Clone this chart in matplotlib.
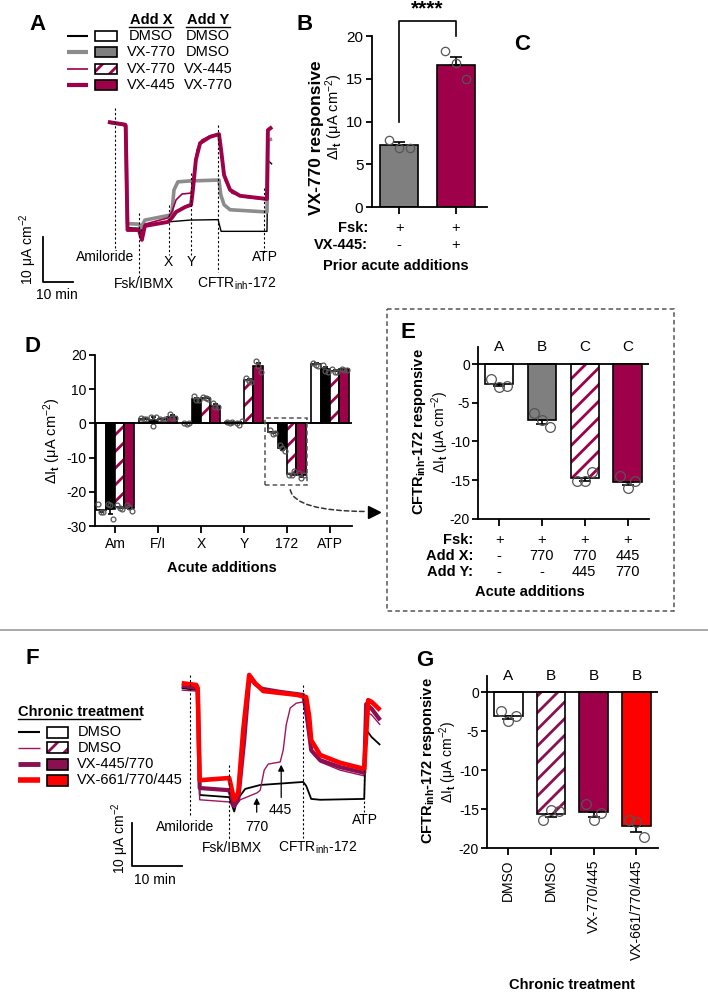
import numpy as np
import matplotlib
matplotlib.use("Agg")
import matplotlib.pyplot as plt
from matplotlib.patches import Rectangle, FancyArrowPatch

plt.rcParams['font.family'] = ['Liberation Sans', 'DejaVu Sans']
plt.rcParams['font.size'] = 10
plt.rcParams['axes.unicode_minus'] = False
plt.rcParams['mathtext.fontset'] = 'custom'
plt.rcParams['mathtext.rm'] = 'Liberation Sans'
plt.rcParams['mathtext.it'] = 'Liberation Sans:italic'
plt.rcParams['mathtext.bf'] = 'Liberation Sans:bold'
plt.rcParams['mathtext.default'] = 'regular'
plt.rcParams['hatch.linewidth'] = 2.0

W, H = 708, 992
MAG = '#9E0049'
PUR = '#8A1052'
THIN = '#A0145E'
GREY = '#8C8C8C'
BAR_GREY = '#7F7F7F'
RED = '#FF0000'
PT_EDGE = '#555555'

# ---------------- data ----------------
# A: short-circuit current traces, (time in min, current in uA/cm2)
a_dmso_dmso = [(0, 23.8), (5.7, 23.3), (5.9, 23.1), (6.5, 0.5), (10.3, 0.4), (11.0, -0.4), (11.7, 1.1),
               (20.0, 1.8), (27.3, 2.2), (36.7, 2.3), (37.7, -0.3), (53.0, -0.3), (53.3, 15.5), (54.7, 14.6)]
a_770_dmso = [(0, 24.0), (5.7, 23.4), (5.9, 23.2), (6.5, 1.4), (10.3, 1.3), (11.0, 0.5), (12.3, 2.2),
              (20.7, 3.3), (21.3, 3.8), (22.0, 8.9), (23.3, 10.7), (27.3, 10.9), (37.0, 11.1), (37.6, 7.8),
              (38.7, 5.6), (40.7, 4.5), (53.0, 4.0), (53.3, 20.0), (54.7, 20.2)]
a_770_445 = [(0, 24.0), (5.7, 23.4), (5.9, 23.2), (6.5, 0.2), (10.3, -0.2), (11.3, -1.8), (12.3, 1.3),
             (20.0, 2.7), (21.3, 4.0), (22.7, 6.7), (24.7, 8.0), (27.7, 8.2), (28.3, 11.1), (29.7, 17.8),
             (31.3, 20.0), (34.0, 20.9), (37.0, 21.3), (37.7, 17.8), (39.0, 11.1), (41.3, 8.2), (45.7, 7.3),
             (53.0, 6.7), (53.3, 22.2), (54.7, 22.7)]
a_445_770 = [(0, 24.0), (5.7, 23.4), (5.9, 23.2), (6.5, 0.0), (10.3, 0.0), (11.3, -2.2), (12.3, 0.9),
             (20.0, 1.8), (21.3, 2.7), (22.7, 4.0), (25.7, 5.1), (27.7, 5.6), (28.3, 8.9), (29.3, 15.6),
             (30.7, 19.3), (34.0, 20.7), (37.0, 21.3), (37.7, 17.8), (38.7, 12.2), (40.7, 8.9), (44.0, 7.6),
             (53.0, 6.9), (53.3, 22.2), (54.7, 22.9)]
a_event_t = [2.5, 10.3, 20.2, 27.8, 36.8, 52.0]
a_add_x = ['DMSO', 'VX-770', 'VX-770', 'VX-445']
a_add_y = ['DMSO', 'DMSO', 'VX-445', 'VX-770']

# D: acute additions, 3 replicates per bar (uA/cm2)
d_categories = ['Am', 'F/I', 'X', 'Y', '172', 'ATP']
d_dmso_dmso = [[-23.7, -26.0, -25.9], [1.6, 1.2, 1.3], [0.1, -0.1, 0.0], [0.5, 0.2, 0.3],
               [-2.0, -3.0, -2.8], [17.8, 17.2, 16.8]]
d_770_dmso = [[-23.5, -24.0, -27.9], [1.9, -0.7, 1.9], [7.9, 6.9, 6.9], [0.0, -0.5, 0.6],
              [-6.3, -7.2, -8.2], [17.0, 15.3, 15.0]]
d_770_445 = [[-24.0, -24.8, -24.9], [1.4, 0.9, 1.2], [7.8, 7.5, 7.2], [13.2, 12.5, 12.2],
             [-15.1, -15.1, -13.9], [15.9, 15.0, 15.0]]
d_445_770 = [[-24.0, -24.3, -25.6], [2.7, 1.6, 1.6], [6.0, 4.9, 4.7], [18.2, 16.8, 15.0],
             [-14.5, -16.0, -15.1], [16.0, 15.7, 15.7]]

# B: VX-770 responsive current, taken from D
b_points = [d_770_dmso[2], d_445_770[3]]
b_fsk = ['+', '+']
b_vx445 = ['-', '+']

# E: CFTRinh-172 responsive current, taken from D
e_points = [d_dmso_dmso[4], d_770_dmso[4], d_770_445[4], d_445_770[4]]
e_letters = ['A', 'B', 'C', 'C']
e_fsk = ['+', '+', '+', '+']
e_add_x = ['-', '770', '770', '445']
e_add_y = ['-', '-', '445', '770']

# F: chronic treatment traces (time in min, current in uA/cm2)
f_dmso = [(0, 24.6), (2.9, 24.1), (3.2, 23.5), (3.6, 0.0), (9.5, -0.5), (10.5, -3.8), (11.1, -1.1),
          (12.7, 1.4), (15.7, 2.3), (24.3, 3.0), (24.9, 2.1), (25.9, -0.9), (27.7, -1.1), (36.5, -0.9),
          (36.9, 15.0), (38.0, 13.3), (39.7, 11.5)]
f_dmso_acute = [(0, 24.1), (2.9, 23.9), (3.2, 23.3), (3.6, -1.1), (9.5, -1.6), (10.5, -3.0), (11.7, -1.1),
                (15.1, 0.5), (15.7, 1.1), (16.5, 5.7), (17.3, 7.1), (19.7, 7.6), (20.3, 10.3), (20.9, 16.1),
                (21.7, 20.0), (22.9, 21.1), (24.3, 21.4), (24.9, 17.2), (25.9, 9.9), (27.7, 7.6),
                (31.7, 5.7), (36.5, 4.4), (36.9, 19.1), (38.0, 18.4), (39.7, 16.1)]
f_445_770 = [(0, 25.1), (2.9, 24.6), (3.2, 24.0), (3.6, 1.6), (9.5, 1.1), (10.5, -2.3), (11.3, -1.1),
             (12.5, 12.6), (13.5, 26.4), (13.8, 26.8), (14.7, 25.5), (16.1, 24.4), (19.7, 23.7),
             (24.3, 23.0), (24.9, 19.5), (25.9, 10.3), (27.7, 8.0), (31.7, 6.4), (36.5, 5.1),
             (36.9, 20.9), (38.0, 19.8), (39.7, 17.2)]
f_661_770_445 = [(0, 25.7), (2.9, 25.3), (3.2, 24.6), (3.6, 3.4), (9.5, 3.9), (10.5, -1.1), (11.3, 0.5),
                 (12.3, 14.9), (13.5, 27.6), (14.7, 25.7), (16.3, 23.9), (23.1, 23.0), (24.9, 22.5),
                 (25.5, 18.0), (25.9, 12.6), (27.7, 9.2), (31.7, 7.4), (36.5, 6.0), (37.3, 21.8),
                 (38.0, 21.4), (39.7, 19.5)]
f_event_t = [1.66, 9.5, 15.0, 19.9, 24.2, 36.5]
f_legend = ['DMSO', 'DMSO', 'VX-445/770', 'VX-661/770/445']

# G: CFTRinh-172 responsive current after chronic treatment
g_labels = ['DMSO', 'DMSO', 'VX-770/445', 'VX-661/770/445']
g_points = [[-2.4, -3.7, -3.0], [-16.4, -15.1, -15.3], [-14.4, -16.4, -15.5], [-16.4, -16.6, -18.6]]
g_letters = ['A', 'B', 'B', 'B']

# ---------------- figure ----------------
fig = plt.figure(figsize=(W / 100, H / 100), dpi=100)


def px_axes(x0, y0, x1, y1):
    return fig.add_axes([x0 / W, 1 - y1 / H, (x1 - x0) / W, (y1 - y0) / H])


def style_axes(ax, lw=1.3, labelsize=10):
    for s in ['top', 'right']:
        ax.spines[s].set_visible(False)
    for s in ['left', 'bottom']:
        ax.spines[s].set_linewidth(lw)
    ax.tick_params(direction='out', length=4, width=lw, labelsize=labelsize, pad=2)
    ax.patch.set_alpha(0)


def draw_bar(ax, x, pts, style, width, ms, cap, hatch_col=MAG, jit=(-0.27, 0.0, 0.27)):
    m = np.mean(pts)
    sem = np.std(pts, ddof=1) / np.sqrt(len(pts))
    if style == 'hatch':
        ax.bar(x, m, width, color='white', edgecolor=hatch_col, hatch='//', linewidth=0, zorder=2)
        ax.bar(x, m, width, fill=False, edgecolor='black', linewidth=1.2, zorder=3)
    else:
        ax.bar(x, m, width, color=style, edgecolor='black', linewidth=1.2, zorder=2)
    err = [[0], [sem]] if m >= 0 else [[sem], [0]]
    ax.errorbar([x], [m], yerr=err, fmt='none', ecolor='black', elinewidth=1.2,
                capsize=cap, capthick=1.2, zorder=4)
    ax.plot(x + np.array(jit) * width, pts, 'o', ms=ms, mfc='none', mec=PT_EDGE,
            mew=0.9, zorder=5, clip_on=False)


def draw_trace(ax, pts, color, lw):
    t, i = zip(*pts)
    ax.plot(t, i, color=color, lw=lw, solid_joinstyle='round', solid_capstyle='butt')


def vdash(ax, x, y0, y1):
    ax.plot([x, x], [y0, y1], color='black', lw=0.8, ls=(0, (2, 2)))


# ---- panel A traces (3 px per min, 4.5 px per uA/cm2)
axA = px_axes(20, 100, 290, 300)
axA.set_xlim(-29.33, 60.67)
axA.set_ylim(-15.56, 28.89)
axA.axis('off')
draw_trace(axA, a_dmso_dmso, 'black', 1.0)
draw_trace(axA, a_770_dmso, GREY, 2.6)
draw_trace(axA, a_445_770, MAG, 2.8)
draw_trace(axA, a_770_445, MAG, 1.2)
a_dash = [(27.1, -4.4), (3.8, -10.4), (5.6, -5.6), (12.7, -5.6), (23.3, -9.3), (9.3, -5.1)]
for t, (y0, y1) in zip(a_event_t, a_dash):
    vdash(axA, t, y0, y1)
axA.text(-1, -6.0, 'Amiloride', ha='center', va='center', fontsize=10)
axA.text(12, -12.0, 'Fsk/IBMX', ha='center', va='center', fontsize=10)
axA.text(a_event_t[2], -7.1, 'X', ha='center', va='center', fontsize=10)
axA.text(a_event_t[3], -7.1, 'Y', ha='center', va='center', fontsize=10)
axA.text(43, -12.0, 'CFTR$_{inh}$-172', ha='center', va='center', fontsize=10)
axA.text(52.3, -6.0, 'ATP', ha='center', va='center', fontsize=10)
axA.plot([-21.7, -21.7, -11.7], [-1.56, -11.56, -11.56], color='black', lw=1.3)
axA.text(-17, -14.4, '10 min', ha='center', va='center', fontsize=10)
axA.text(-26.7, -4.3, '10 \u03bcA cm$^{-2}$', ha='center', va='center', rotation=90, fontsize=10)

# ---- panel B
axB = px_axes(371.7, 36, 486.7, 207.3)
axB.set_xlim(-0.486, 1.546)
axB.set_ylim(0, 20)
style_axes(axB, labelsize=11)
for x, pts, st in zip([0, 1], b_points, [BAR_GREY, MAG]):
    draw_bar(axB, x, pts, st, 0.677, 6, 4)
axB.set_yticks([0, 5, 10, 15, 20])
axB.set_xticks([0, 1])
axB.set_xticklabels([])
axB.tick_params(axis='x', length=5)
axB.plot([0, 0, 1, 1], [10.0, 21.8, 21.8, 20.0], color='black', lw=1.2, clip_on=False)
axB.text(0.5, 23.2, '****', ha='center', va='center', fontsize=15, fontweight='bold')

# ---- panel D
axD = px_axes(95, 355, 351.7, 526)
axD.set_xlim(-0.465, 5.505)
axD.set_ylim(-30, 20)
style_axes(axD)
d_series = [(d_dmso_dmso, 'white'), (d_770_dmso, 'black'), (d_770_445, 'hatch'), (d_445_770, MAG)]
bw = 0.22
for k, (series, st) in enumerate(d_series):
    for g, pts in enumerate(series):
        draw_bar(axD, g + (k - 1.5) * bw, pts, st, bw, 3.5, 1.8)
axD.axhline(0, color='black', lw=1.3, zorder=6)
axD.set_yticks([20, 10, 0, -10, -20, -30])
axD.set_xticks(range(len(d_categories)))
axD.set_xticklabels(d_categories)
axD.tick_params(axis='x', length=5, pad=3)
axD.add_patch(Rectangle((3.49, -18.0), 0.98, 19.6, fill=False, ls=(0, (3, 2)), ec='#555555',
                        lw=1.1, clip_on=False, zorder=7))

# ---- panel E
axE = px_axes(478.3, 346.7, 649, 518.7)
axE.set_xlim(-0.488, 3.5)
axE.set_ylim(-20, 2.24)
style_axes(axE)
for x, pts, st in zip(range(4), e_points, ['white', BAR_GREY, 'hatch', MAG]):
    draw_bar(axE, x, pts, st, 0.666, 7, 4)
axE.axhline(0, color='black', lw=1.3, zorder=6)
axE.set_yticks([0, -5, -10, -15, -20])
axE.set_xticks(range(4))
axE.set_xticklabels([])
axE.tick_params(axis='x', length=5)
for x, s in enumerate(e_letters):
    axE.text(x, 2.24, s, ha='center', va='center', fontsize=11, clip_on=False)

# ---- panel F traces (5 px per min, 4.35 px per uA/cm2)
axF = px_axes(100, 650, 385, 900)
axF.set_xlim(-16.34, 40.66)
axF.set_ylim(-24.14, 33.33)
axF.axis('off')
draw_trace(axF, f_dmso, 'black', 1.3)
draw_trace(axF, f_dmso_acute, THIN, 1.0)
draw_trace(axF, f_445_770, PUR, 3.0)
draw_trace(axF, f_661_770_445, RED, 3.3)
f_dash = [(27.6, -4.6), (6.9, -10.3), None, None, (25.3, -9.9), (5.7, -3.9)]
for t, d in zip(f_event_t, f_dash):
    if d is not None:
        vdash(axF, t, d[0], d[1])
axF.annotate('', xy=(f_event_t[2], 0.0), xytext=(f_event_t[2], -4.6),
             arrowprops=dict(arrowstyle='-|>', color='black', lw=0.9, mutation_scale=9))
axF.annotate('', xy=(f_event_t[3], 7.6), xytext=(f_event_t[3], -1.2),
             arrowprops=dict(arrowstyle='-|>', color='black', lw=0.9, mutation_scale=9))
axF.text(0.66, -7.4, 'Amiloride', ha='center', va='center', fontsize=10)
axF.text(10.0, -12.2, 'Fsk/IBMX', ha='center', va='center', fontsize=10)
axF.text(15.0, -7.3, '770', ha='center', va='center', fontsize=10)
axF.text(19.7, -3.5, '445', ha='center', va='center', fontsize=10)
axF.text(27.3, -12.2, 'CFTR$_{inh}$-172', ha='center', va='center', fontsize=10)
axF.text(36.7, -5.7, 'ATP', ha='center', va='center', fontsize=10)
axF.plot([-10, -10, 0], [-6.4, -16.4, -16.4], color='black', lw=1.3)
axF.text(-5.3, -19.5, '10 min', ha='center', va='center', fontsize=10)
axF.text(-12.3, -9.9, '10 \u03bcA cm$^{-2}$', ha='center', va='center', rotation=90, fontsize=10)

# ---- panel G
axG = px_axes(487.3, 676, 658.3, 848)
axG.set_xlim(-0.49, 3.51)
axG.set_ylim(-20, 2.1)
style_axes(axG)
for x, pts, st in zip(range(4), g_points, ['white', 'hatch', MAG, RED]):
    draw_bar(axG, x, pts, st, 0.667, 7, 4, hatch_col=PUR)
axG.axhline(0, color='black', lw=1.3, zorder=6)
axG.set_yticks([0, -5, -10, -15, -20])
axG.set_xticks(range(4))
axG.set_xticklabels(g_labels, rotation=90, fontsize=10)
axG.tick_params(axis='x', length=5, pad=3)
for x, s in enumerate(g_letters):
    axG.text(x, 2.1, s, ha='center', va='center', fontsize=11, clip_on=False)

# ---- overlay in pixel coordinates: letters, legends, annotations
ov = px_axes(0, 0, W, H)
ov.set_xlim(0, W)
ov.set_ylim(H, 0)
ov.axis('off')

for s, x, y in [('A', 38, 25), ('B', 305, 25), ('C', 522, 45), ('D', 33, 347), ('E', 408, 332),
                ('F', 32, 658), ('G', 425, 660)]:
    ov.text(x, y, s, fontsize=16, fontweight='bold', ha='center', va='center')

# legend A
ov.text(151, 20.5, 'Add X', ha='center', va='center', fontweight='bold', fontsize=10.5)
ov.text(208, 20.5, 'Add Y', ha='center', va='center', fontweight='bold', fontsize=10.5)
ov.plot([129, 173], [27, 27], color='black', lw=1)
ov.plot([186, 230], [27, 27], color='black', lw=1)
a_rows = [35.7, 52.3, 69, 85]
a_line_style = [('black', 1.5), (GREY, 3.0), (MAG, 1.2), (MAG, 3.0)]
a_box_style = ['white', BAR_GREY, 'hatch', MAG]
for y, (lc, lw), bs, tx, ty in zip(a_rows, a_line_style, a_box_style, a_add_x, a_add_y):
    ov.plot([66.7, 88.3], [y, y], color=lc, lw=lw, solid_capstyle='butt')
    if bs == 'hatch':
        ov.add_patch(Rectangle((94.5, y - 5), 22, 10, facecolor='white', edgecolor=MAG, hatch='//', lw=0))
        ov.add_patch(Rectangle((94.5, y - 5), 22, 10, fill=False, edgecolor='black', lw=1.2))
    else:
        ov.add_patch(Rectangle((94.5, y - 5), 22, 10, facecolor=bs, edgecolor='black', lw=1.2))
    ov.text(151, y, tx, ha='center', va='center', fontsize=10.5)
    ov.text(208, y, ty, ha='center', va='center', fontsize=10.5)

# B labels
ov.text(316, 138, 'VX-770 responsive', rotation=90, ha='center', va='center', fontweight='bold', fontsize=12.5)
ov.text(334, 117, '\u0394I$_\\mathbf{t}$ (\u03bcA cm$^{-2}$)', rotation=90, ha='center', va='center', fontsize=10.5)
ov.text(368, 228, 'Fsk:', ha='right', va='center', fontweight='bold', fontsize=10.5)
ov.text(368, 245, 'VX-445:', ha='right', va='center', fontweight='bold', fontsize=10.5)
for x, f, v in zip([399.2, 455.8], b_fsk, b_vx445):
    ov.text(x, 228, f, ha='center', va='center', fontsize=10.5)
    ov.text(x, 245, v, ha='center', va='center', fontsize=10.5)
ov.text(396, 266, 'Prior acute additions', ha='center', va='center', fontweight='bold', fontsize=10.5)

# D labels
ov.text(52, 441, '\u0394I$_\\mathbf{t}$ (\u03bcA cm$^{-2}$)', rotation=90, ha='center', va='center', fontsize=10.5)
ov.text(222, 568, 'Acute additions', ha='center', va='center', fontweight='bold', fontsize=10.5)
arr = FancyArrowPatch((290, 487), (369, 511.5), arrowstyle='-', connectionstyle='angle3,angleA=-90,angleB=0',
                      ls=(0, (3, 2)), color='#333333', lw=1.1)
ov.add_patch(arr)
ov.plot([374], [511.5], marker='>', ms=9, color='black')

# E box and labels
ov.add_patch(Rectangle((387, 309.3), 287, 301.4, fill=False, ls=(0, (3, 2)), ec='#555555', lw=1.1))
ov.text(419.5, 432, 'CFTR$_\\mathbf{inh}$-172 responsive', rotation=90, ha='center', va='center',
        fontweight='bold', fontsize=10.5)
ov.text(440, 432, '\u0394I$_\\mathbf{t}$ (\u03bcA cm$^{-2}$)', rotation=90, ha='center', va='center', fontsize=10)
for lab, y in [('Fsk:', 540), ('Add X:', 556), ('Add Y:', 572)]:
    ov.text(473, y, lab, ha='right', va='center', fontweight='bold', fontsize=10.5)
for x, f, ax_, ay_ in zip([499.2, 541.9, 584.2, 627.7], e_fsk, e_add_x, e_add_y):
    ov.text(x, 540, f, ha='center', va='center', fontsize=10.5)
    ov.text(x, 556, ax_, ha='center', va='center', fontsize=10.5)
    ov.text(x, 572, ay_, ha='center', va='center', fontsize=10.5)
ov.text(530, 592, 'Acute additions', ha='center', va='center', fontweight='bold', fontsize=10.5)

# separator
ov.plot([0, W], [630, 630], color='#999999', lw=1.2)

# legend F
ov.text(18, 711.5, 'Chronic treatment', ha='left', va='center', fontweight='bold', fontsize=10.5)
ov.plot([18, 140], [718.5, 718.5], color='black', lw=1)
f_rows = [732.3, 747.7, 764, 780]
f_line_style = [('black', 1.5), (THIN, 1.0), (PUR, 3.5), (RED, 4.0)]
f_box_style = ['white', 'hatch', PUR, RED]
for y, (lc, lw), bs, tx in zip(f_rows, f_line_style, f_box_style, f_legend):
    ov.plot([18, 40], [y, y], color=lc, lw=lw, solid_capstyle='butt')
    if bs == 'hatch':
        ov.add_patch(Rectangle((46.7, y - 5.5), 21.6, 11, facecolor='white', edgecolor=PUR, hatch='//', lw=0))
        ov.add_patch(Rectangle((46.7, y - 5.5), 21.6, 11, fill=False, edgecolor='black', lw=1.2))
    else:
        ov.add_patch(Rectangle((46.7, y - 5.5), 21.6, 11, facecolor=bs, edgecolor='black', lw=1.2))
    ov.text(77.3, y, tx, ha='left', va='center', fontsize=10.5)

# G labels
ov.text(428, 761, 'CFTR$_\\mathbf{inh}$-172 responsive', rotation=90, ha='center', va='center',
        fontweight='bold', fontsize=10.5)
ov.text(448.5, 762, '\u0394I$_\\mathbf{t}$ (\u03bcA cm$^{-2}$)', rotation=90, ha='center', va='center', fontsize=10)
ov.text(572, 985, 'Chronic treatment', ha='center', va='center', fontweight='bold', fontsize=10.5)

fig.savefig('out.png', dpi=100)
